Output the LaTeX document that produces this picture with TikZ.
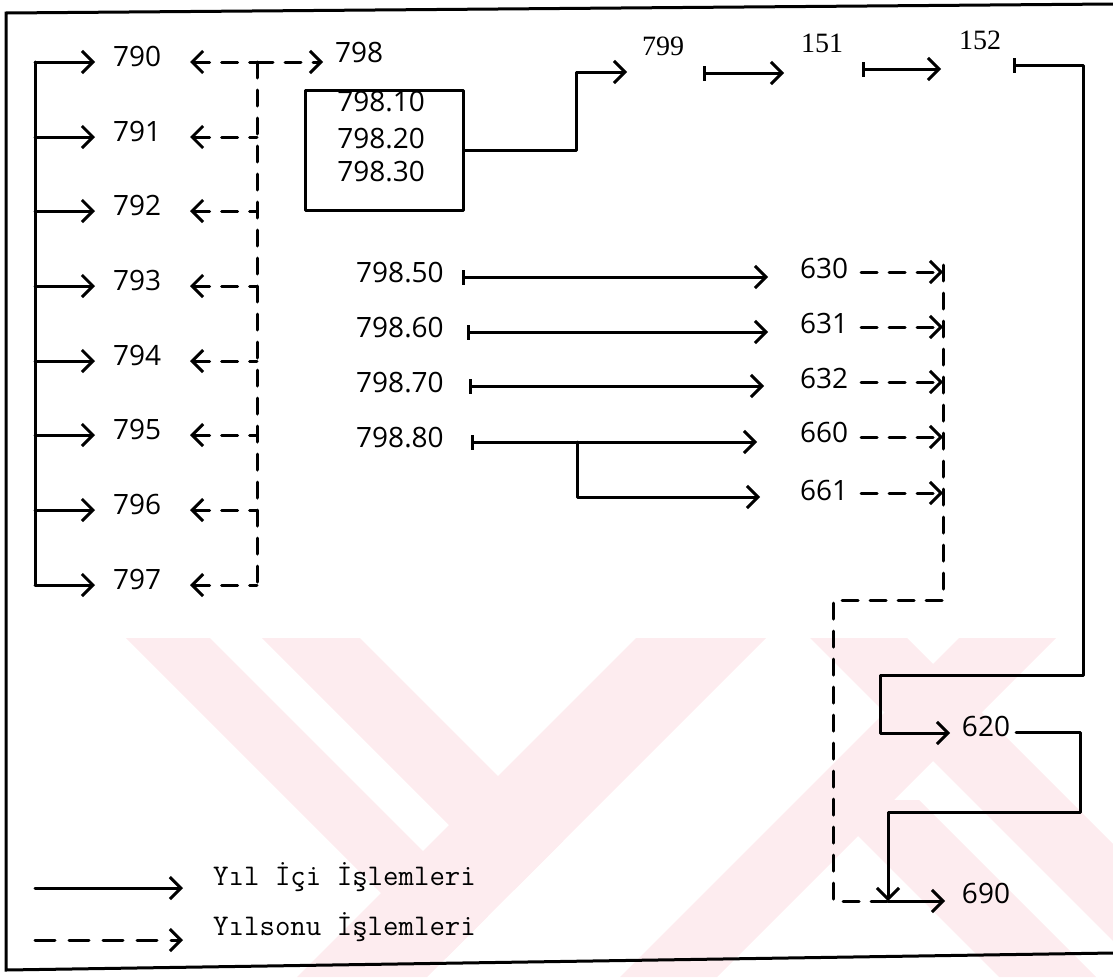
\documentclass[tikz,border=0pt]{standalone}
\usepackage{fontspec}
\setmainfont{Liberation Serif}
\newfontfamily\numfont{Open Sans}
\usetikzlibrary{arrows.meta}
\definecolor{wm}{RGB}{253,236,239}
\begin{document}
\begin{tikzpicture}[x=1pt,y=-1pt,
  ln/.style={line width=3pt, line cap=round, line join=round},
  tip/.style={-{Straight Barb[length=11pt,width=22pt]}},
  sar/.style={ln, tip},
  bsar/.style={ln, {Bar[width=15pt]}-{Straight Barb[length=11pt,width=22pt]}},
  dsh/.style={ln, dash pattern=on 16pt off 12pt},
  dar/.style={dsh, tip},
  ldar/.style={dsh, {Straight Barb[length=11pt,width=22pt]}-},
  num/.style={font=\numfont\fontsize{28}{28}\selectfont, inner sep=0pt},
  snum/.style={font=\rmfamily\fontsize{28}{28}\selectfont, inner sep=0pt},
  leg/.style={font=\ttfamily\fontsize{30}{30}\selectfont, inner sep=0pt, anchor=west},
  frame/.style={line width=3pt}]
\useasboundingbox (0,0) rectangle (1113,977);
% faint watermark
\begin{scope}
\clip (100,638) rectangle (1113,977);
\begin{scope}
\clip (0,0) -- (1404,0) -- (404,1000) -- (0,1000) -- cycle;
\foreach \a/\b in {-512/-428,-376/-278}
  \fill[wm] (\a+638,638) -- (\b+638,638) -- (\b+977,977) -- (\a+977,977) -- cycle;
\end{scope}
\foreach \a/\b in {172/269}
  \fill[wm] (\a+638,638) -- (\b+638,638) -- (\b+977,977) -- (\a+977,977) -- cycle;
\fill[wm] (22+800,800) -- (119+800,800) -- (119+977,977) -- (22+977,977) -- cycle;
\foreach \c/\d in {1274/1404,1597/1694}
  \fill[wm] (\c-638,638) -- (\d-638,638) -- (\d-977,977) -- (\c-977,977) -- cycle;
\end{scope}
% frame
\draw[frame] (1113,4) -- (6,13) -- (6,970) -- (1113,953);
% left column
\coordinate (T) at (35,62);
\coordinate (D) at (257,62);
\foreach \lab/\y in {790/62,791/137,792/211,793/286,794/361,795/435,796/510,797/585}{
  \node[num, anchor=west] (n\lab) at (113,\y-6) {\lab};
  \coordinate (s\lab) at (95,\y);
  \coordinate (d\lab) at (190,\y);
  \draw[sar] (T |- s\lab) -- (s\lab);
  \draw[ldar] (d\lab) -- (D |- d\lab);
}
\draw[ln] (T) -- (T |- s797);
\draw[dsh] (D) -- (D |- d797);
\node[num, anchor=west] (n798) at (335,52) {798};
\coordinate (d798) at (323,62);
\draw[dar] (D) -- (d798);
% box
\node[draw, ln, minimum width=158pt, minimum height=120pt, inner sep=0pt] (box) at (384,150) {};
\node[num] (b10) at (381,102) {798.10};
\node[num] (b20) at (381,139) {798.20};
\node[num] (b30) at (381,172) {798.30};
% top right chain
\node[snum] (n799) at (663,46) {799};
\node[snum] (n151) at (822,43) {151};
\node[snum] (n152) at (980,40) {152};
\coordinate (c1) at (576,150);
\coordinate (c2) at (576,72);
\coordinate (a799) at (627,72);
\draw[sar] (box.east) -- (c1) -- (c2) -- (a799);
\coordinate (b799) at (703,73);
\coordinate (a151) at (784,73);
\draw[bsar] (b799) -- (a151);
\coordinate (b151) at (862,69);
\coordinate (a152) at (941,69);
\draw[bsar] (b151) -- (a152);
% 152 -> 620
\node[num] (n620) at (986,726) {620};
\node[num] (n690) at (986,893) {690};
\coordinate (b152) at (1013,65);
\coordinate (r1) at (1083,65);
\coordinate (r2) at (1083,675);
\coordinate (r3) at (880,675);
\coordinate (r4) at (880,733);
\coordinate (a620) at (950,733);
\draw[ln, {Bar[width=15pt]}-{Straight Barb[length=11pt,width=22pt]}] (b152) -- (r1) -- (r2) -- (r3) -- (r4) -- (a620);
% 620 -> 690
\coordinate (J) at (888,901);
\coordinate (q1) at (1080,732);
\coordinate (q2) at (1080,812);
\coordinate (q3) at (888,812);
\draw[sar] ([xshift=6pt]n620.east |- q1) -- (q1) -- (q2) -- (q3) -- (J);
\coordinate (a690) at (945,901);
\draw[sar] (J) -- (a690);
% middle rows
\node[num, anchor=west] (m50) at (356,273) {798.50};
\node[num, anchor=west] (m60) at (356,328) {798.60};
\node[num, anchor=west] (m70) at (356,383) {798.70};
\node[num, anchor=west] (m80) at (356,438) {798.80};
\node[num, anchor=west] (k630) at (800,268) {630};
\node[num, anchor=west] (k631) at (800,323) {631};
\node[num, anchor=west] (k632) at (800,378) {632};
\node[num, anchor=west] (k660) at (800,432) {660};
\node[num, anchor=west] (k661) at (800,490) {661};
\draw[bsar] (462,277) coordinate (p50) -- (768,277) coordinate (e630);
\draw[bsar] (467,332) coordinate (p60) -- (768,332) coordinate (e631);
\draw[bsar] (469,386) coordinate (p70) -- (764,386) coordinate (e632);
\draw[bsar] (471,442) coordinate (p80) -- (757,442) coordinate (e660);
\coordinate (br) at (577,442);
\coordinate (br2) at (577,497);
\coordinate (e661) at (760,497);
\draw[sar] (br) -- (br2) -- (e661);
% dashed collection 63x/66x
\coordinate (E) at (943,265);
\coordinate (E2) at (943,600);
\coordinate (E3) at (833,600);
\coordinate (E4) at (833,901);
\foreach \k/\y in {630/272,631/327,632/382,660/437,661/493}{
  \coordinate (g\k) at (861,\y);
  \draw[dar] (g\k) -- (E |- g\k);
}
\draw[dsh] (E) -- (E2) -- (E3) -- (E4) -- (J);
% legend
\coordinate (L1) at (35,888);
\coordinate (L2) at (183,888);
\coordinate (L3) at (35,940);
\coordinate (L4) at (183,940);
\draw[sar] (L1) -- (L2);
\draw[ln, dash pattern=on 20pt off 14pt, tip] (L3) -- (L4);
\node[leg] (t1) at (213,877) {Yıl İçi İşlemleri};
\node[leg] (t2) at (213,927) {Yılsonu İşlemleri};
\end{tikzpicture}
\end{document}
